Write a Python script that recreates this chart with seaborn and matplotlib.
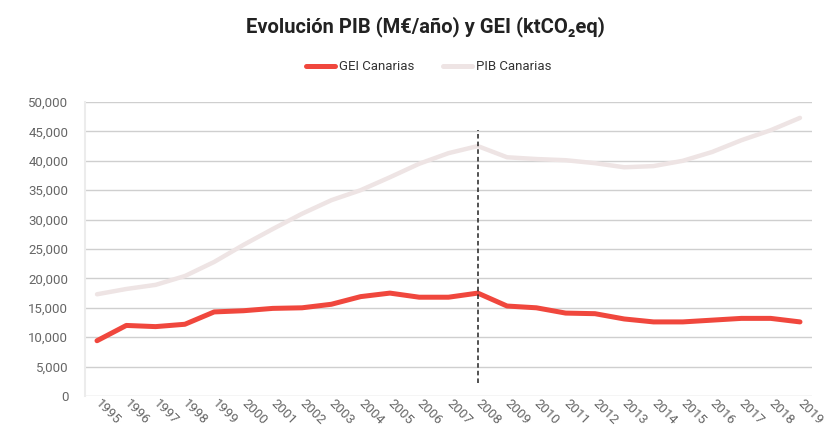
import numpy as np
import pandas as pd
import matplotlib
matplotlib.use("Agg")
import matplotlib.pyplot as plt
from matplotlib.lines import Line2D
from matplotlib.ticker import FuncFormatter
import seaborn as sns

# -------------------------------
# DATA
# -------------------------------

YEARS = list(range(1995, 2020))

GEI_CANARIAS = [9400, 12000, 11800, 12200, 14300, 14500, 14900, 15000, 15600, 16900,
                17500, 16800, 16800, 17500, 15300, 15000, 14100, 14000, 13100, 12600,
                12600, 12900, 13200, 13200, 12600]

PIB_CANARIAS = [17300, 18200, 18900, 20400, 22800, 25700, 28400, 31000, 33300, 35000,
                37200, 39500, 41300, 42500, 40600, 40300, 40100, 39600, 38900, 39100,
                40000, 41500, 43500, 45200, 47300]

SERIES = ["GEI Canarias", "PIB Canarias"]
COLORS = {"GEI Canarias": "#f0473d", "PIB Canarias": "#eee4e4"}
CRISIS_YEAR = 2008

df = pd.DataFrame({
    "year": YEARS * 2,
    "value": GEI_CANARIAS + PIB_CANARIAS,
    "serie": [SERIES[0]] * len(YEARS) + [SERIES[1]] * len(YEARS),
})

# -------------------------------
# PLOT
# -------------------------------

sns.set_theme(style="whitegrid")
plt.rcParams["font.family"] = ["Roboto", "DejaVu Sans"]

fig = plt.figure(figsize=(8.4, 4.48), dpi=100)
ax = fig.add_axes([85 / 840, 1 - 396 / 448, (812 - 85) / 840, (396 - 102) / 448])

# PIB first so GEI sits on top
sns.lineplot(data=df[df["serie"] == "PIB Canarias"], x="year", y="value",
             color=COLORS["PIB Canarias"], linewidth=3.2, ax=ax, legend=False)
sns.lineplot(data=df[df["serie"] == "GEI Canarias"], x="year", y="value",
             color=COLORS["GEI Canarias"], linewidth=3.6, ax=ax, legend=False)

ax.vlines(CRISIS_YEAR, 2200, 45300, colors="#222222", linestyles=(0, (3, 2)), linewidth=1.1)

ax.set_xlim(1994.59, 2019.41)
ax.set_ylim(0, 50000)
ax.set_yticks(np.arange(0, 50001, 5000))
ax.yaxis.set_major_formatter(FuncFormatter(lambda v, p: f"{int(v):,}"))
ax.set_xticks(YEARS)
ax.set_xticklabels([str(y) for y in YEARS], rotation=-45, ha="left", va="center",
                   rotation_mode="anchor")
ax.set_xlabel("")
ax.set_ylabel("")

ax.grid(axis="y", color="#cfcfcf", linewidth=1)
ax.grid(axis="x", visible=False)
for side in ["top", "right", "bottom"]:
    ax.spines[side].set_visible(False)
ax.spines["left"].set_color("#ececec")
ax.spines["left"].set_linewidth(1.5)
ax.tick_params(axis="both", colors="#666666", labelsize=9.5, length=0)
ax.tick_params(axis="y", pad=12)
ax.tick_params(axis="x", pad=4)

fig.text(0.506, 1 - 27 / 448, "Evolución PIB (M€/año) y GEI (ktCO₂eq)",
         ha="center", va="center", fontsize=14.5, fontweight="bold", color="#222222")

handles = [Line2D([0], [0], color=COLORS[s], linewidth=3.6) for s in SERIES]
fig.legend(handles, SERIES, loc="center", bbox_to_anchor=(429 / 840, 1 - 67 / 448),
           ncol=2, frameon=False, fontsize=9.5, handlelength=2.2, handletextpad=0.3,
           columnspacing=2.2, labelcolor="#333333")

fig.savefig("out.png", dpi=100, facecolor="white")
